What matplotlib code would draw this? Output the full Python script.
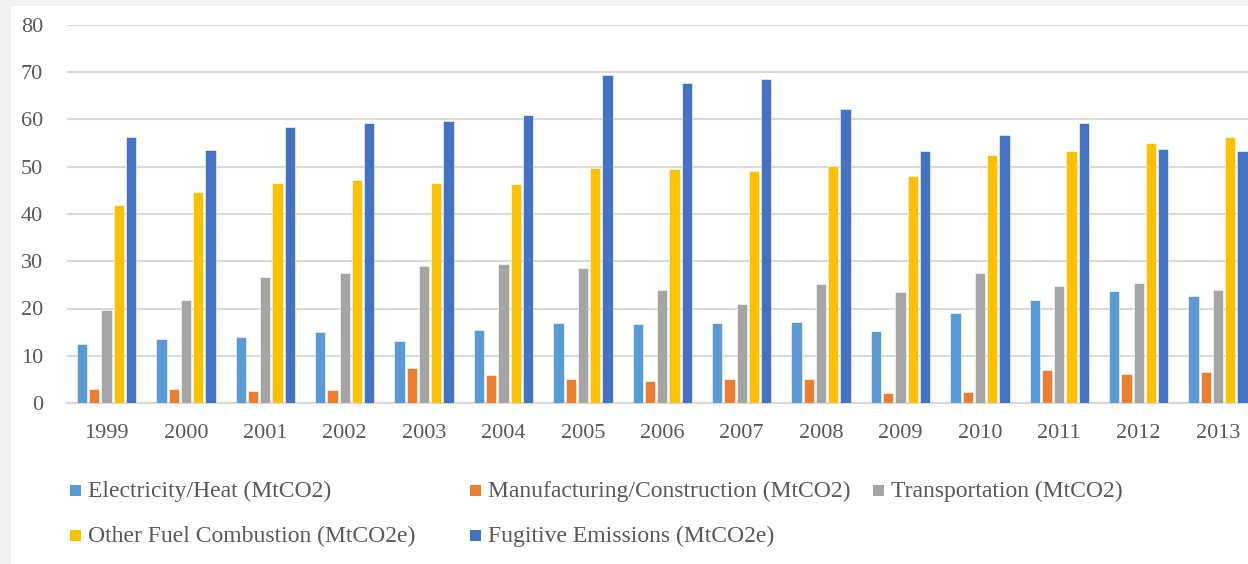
import numpy as np
import matplotlib
matplotlib.use("Agg")
import matplotlib.pyplot as plt
from matplotlib.patches import Rectangle

years = [str(y) for y in range(1999, 2014)]
series_names = [
    "Electricity/Heat (MtCO2)",
    "Manufacturing/Construction (MtCO2)",
    "Transportation (MtCO2)",
    "Other Fuel Combustion (MtCO2e)",
    "Fugitive Emissions (MtCO2e)",
]
electricity = [12.5, 13.6, 14.0, 15.0, 13.1, 15.4, 16.9, 16.7, 17.0, 17.2, 15.3, 19.0, 21.9, 23.6, 22.7]
manufacturing = [3.0, 3.0, 2.5, 2.7, 7.4, 5.9, 5.1, 4.7, 5.0, 5.1, 2.1, 2.3, 7.0, 6.1, 6.5]
transportation = [19.6, 21.8, 26.6, 27.5, 29.1, 29.5, 28.6, 24.0, 21.0, 25.1, 23.4, 27.5, 24.8, 25.4, 23.9]
other_fuel = [41.8, 44.7, 46.6, 47.1, 46.5, 46.4, 49.7, 49.6, 49.2, 50.2, 48.0, 52.5, 53.3, 55.0, 56.3]
fugitive = [56.4, 53.5, 58.4, 59.2, 59.7, 61.0, 69.4, 67.8, 68.5, 62.2, 53.3, 56.7, 59.3, 53.7, 53.3]
colors = ["#5b9bd5", "#ed7d31", "#a5a5a5", "#ffc000", "#4472c4"]

W, H = 1248, 564
plt.rcParams['font.family'] = ['Liberation Serif', 'DejaVu Serif']
fig = plt.figure(figsize=(W / 100, H / 100), dpi=100, facecolor="#f2f2f2")

def fx(px):
    return px / W

def fy(py):
    return 1 - py / H

# white chart area
fig.patches.append(Rectangle((fx(11), 0), 1 - fx(11), fy(6), transform=fig.transFigure,
                             facecolor="white", edgecolor="none", zorder=-5))

ax = fig.add_axes([fx(66.8), fy(403), fx(15 * 79.4), fy(25) - fy(403)])
ax.set_facecolor("none")

x = np.arange(len(years))
step = 0.154
width = 0.13
data = [electricity, manufacturing, transportation, other_fuel, fugitive]
for i, (vals, c) in enumerate(zip(data, colors)):
    ax.bar(x + (i - 2) * step, vals, width, color=c, edgecolor="white", linewidth=0.4, zorder=3)

ax.set_xlim(-0.5, len(years) - 0.5)
ax.set_ylim(0, 80)
ax.set_yticks(range(0, 81, 10))
ax.set_xticks(x)
ax.set_xticklabels(years)
ax.grid(axis="y", color="#d9d9d9", linewidth=1.5, zorder=0)
for s in ["top", "right", "left"]:
    ax.spines[s].set_visible(False)
ax.spines["bottom"].set_color("#d9d9d9")
ax.spines["bottom"].set_linewidth(1.5)
ax.tick_params(axis="both", length=0, labelsize=16, labelcolor="#595959")
ax.tick_params(axis="y", pad=17)
ax.tick_params(axis="x", pad=15)

# legend, laid out like the spreadsheet one
leg_pos = [(70, 490), (470, 490), (873, 490), (70, 535), (470, 535)]
for (px, py), name, c in zip(leg_pos, series_names, colors):
    fig.patches.append(Rectangle((fx(px), fy(py + 6)), fx(11), fy(py - 5) - fy(py + 6),
                                 transform=fig.transFigure, facecolor=c, edgecolor="none"))
    fig.text(fx(px + 18), fy(py + 1), name, fontsize=17, color="#595959", va="center", ha="left")

fig.savefig("out.png", dpi=100, facecolor=fig.get_facecolor())
